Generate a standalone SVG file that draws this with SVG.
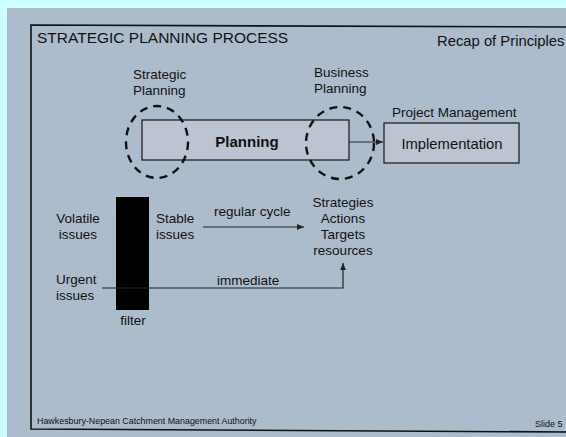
<svg xmlns="http://www.w3.org/2000/svg" width="566" height="437" viewBox="0 0 566 437">
<defs>
<style>
text{font-family:"Liberation Sans",Arial,sans-serif;fill:#111}
.t{font-size:13.5px}
.b{font-size:15px;font-weight:bold}
.box{fill:#bcc4d2;stroke:#222;stroke-width:1.3}
.dash{fill:none;stroke:#111;stroke-width:2.4;stroke-dasharray:8,6}
.ln{fill:none;stroke:#222;stroke-width:1.2}
</style>
<marker id="ah" markerWidth="8" markerHeight="8" refX="7" refY="4" orient="auto" markerUnits="userSpaceOnUse">
<path d="M0,1 L7,4 L0,7 z" fill="#222"/>
</marker>
</defs>
<rect x="0" y="0" width="566" height="437" fill="#ccffff"/>
<rect x="7" y="8" width="559" height="429" fill="#adbccc"/>
<path d="M566,27 L31,25 L31,429 L566,432" fill="none" stroke="#111" stroke-width="1.6"/>
<text x="37" y="43" style="font-size:15.5px">STRATEGIC PLANNING PROCESS</text>
<text x="437" y="46" style="font-size:14.8px">Recap of Principles</text>
<g id="strategic-label"><text class="t" x="133" y="79">Strategic</text><text class="t" x="133" y="95">Planning</text></g>
<g id="business-label"><text class="t" x="314" y="77">Business</text><text class="t" x="314" y="93">Planning</text></g>
<g id="planning"><rect class="box" x="142" y="120" width="207" height="40"/><text class="b" x="247" y="147" text-anchor="middle">Planning</text></g>
<g id="implementation"><text class="t" x="392" y="117">Project Management</text><rect class="box" x="384" y="123" width="135" height="40"/><text x="452" y="149" text-anchor="middle" style="font-size:14.8px">Implementation</text></g>
<g id="circles"><ellipse class="dash" cx="157" cy="142" rx="31" ry="36"/><ellipse class="dash" cx="340" cy="143" rx="34" ry="36"/></g>
<g id="filter"><rect x="116" y="197" width="33" height="113" fill="#000"/><text class="t" x="133" y="325" text-anchor="middle">filter</text></g>
<g id="volatile"><text class="t" x="78" y="223" text-anchor="middle">Volatile</text><text class="t" x="78" y="239" text-anchor="middle">issues</text></g>
<g id="stable"><text class="t" x="156" y="223">Stable</text><text class="t" x="156" y="239">issues</text></g>
<g id="urgent"><text class="t" x="56" y="284">Urgent</text><text class="t" x="56" y="300">issues</text></g>
<g id="outputs"><text class="t" x="343" y="207" text-anchor="middle">Strategies</text><text class="t" x="343" y="223" text-anchor="middle">Actions</text><text class="t" x="343" y="239" text-anchor="middle">Targets</text><text class="t" x="343" y="255" text-anchor="middle">resources</text></g>
<g id="connectors">
<line class="ln" x1="349" y1="142" x2="383" y2="142" marker-end="url(#ah)"/>
<line class="ln" x1="203" y1="227" x2="304" y2="227" marker-end="url(#ah)"/>
<text class="t" x="214" y="216">regular cycle</text>
<path class="ln" d="M102,288 L343,288 L343,263" marker-end="url(#ah)"/>
<text class="t" x="217" y="285">immediate</text>
</g>
<text x="37" y="424" style="font-size:8.9px">Hawkesbury-Nepean Catchment Management Authority</text>
<text x="535" y="427" style="font-size:9px">Slide 5</text>
</svg>
